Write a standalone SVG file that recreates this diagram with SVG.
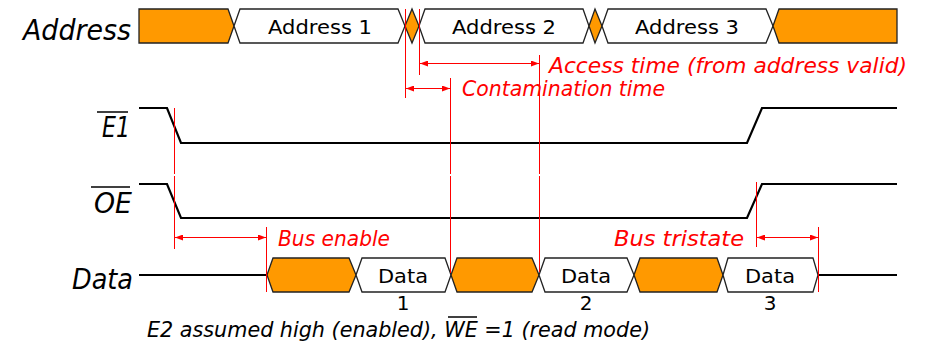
<svg xmlns="http://www.w3.org/2000/svg" width="926" height="344" viewBox="0 0 926 344">
  <style>
    .bus { stroke: #222; stroke-width: 1.3; stroke-linejoin: miter; }
    .inv { fill: #FF9900; }
    .val { fill: #FFFFFF; }
    .sig { fill: none; stroke: #000; stroke-width: 2.2; stroke-linejoin: miter; }
    .mark { stroke: #FF0000; stroke-width: 1; fill: none; }
    .dim { stroke: #FF0000; stroke-width: 1; fill: none; marker-start: url(#ah); marker-end: url(#ah); }
    .lbl { font-family: "DejaVu Sans", "Liberation Sans", sans-serif; font-style: italic; font-size: 28px; fill: #000; }
    .box { font-family: "DejaVu Sans", "Liberation Sans", sans-serif; font-size: 20px; fill: #000; text-anchor: middle; }
    .note { font-family: "DejaVu Sans", "Liberation Sans", sans-serif; font-style: italic; font-size: 21px; fill: #FF0000; }
    .foot { font-family: "DejaVu Sans", "Liberation Sans", sans-serif; font-style: italic; font-size: 21px; fill: #000; }
    .bar { stroke: #000; stroke-width: 1.5; }
  </style>
  <defs>
    <marker id="ah" viewBox="0 0 8 6" refX="8" refY="3" markerWidth="8" markerHeight="6" markerUnits="userSpaceOnUse" orient="auto-start-reverse">
      <path d="M0,0 L8,3 L0,6 Z" fill="#FF0000"/>
    </marker>
  </defs>

  <!-- signal names -->
  <g id="label-address"><text class="lbl" x="23" y="40" textLength="108" lengthAdjust="spacingAndGlyphs">Address</text></g>
  <g id="label-e1">
    <text class="lbl" x="102" y="137" textLength="28" lengthAdjust="spacingAndGlyphs">E1</text>
    <line class="bar" x1="97" y1="112" x2="128" y2="112"/>
  </g>
  <g id="label-oe">
    <text class="lbl" x="94" y="213" textLength="38" lengthAdjust="spacingAndGlyphs">OE</text>
    <line class="bar" x1="91" y1="187" x2="130" y2="187"/>
  </g>
  <g id="label-data"><text class="lbl" x="72" y="289" textLength="61" lengthAdjust="spacingAndGlyphs">Data</text></g>

  <!-- address bus -->
  <g id="addr-invalid-0"><polygon class="bus inv" points="139,9 228,9 234,26 228,43 139,43"/></g>
  <g id="addr-1">
    <polygon class="bus val" points="234,26 240,9 398,9 405,26 398,43 240,43"/>
    <text class="box" x="320" y="34" textLength="104" lengthAdjust="spacingAndGlyphs">Address 1</text>
  </g>
  <g id="addr-invalid-1"><polygon class="bus inv" points="405,26 412,9 419,26 412,43"/></g>
  <g id="addr-2">
    <polygon class="bus val" points="419,26 425,9 583,9 589,26 583,43 425,43"/>
    <text class="box" x="504" y="34" textLength="104" lengthAdjust="spacingAndGlyphs">Address 2</text>
  </g>
  <g id="addr-invalid-2"><polygon class="bus inv" points="589,26 595,9 602,26 595,43"/></g>
  <g id="addr-3">
    <polygon class="bus val" points="602,26 608,9 766,9 773,26 766,43 608,43"/>
    <text class="box" x="687" y="34" textLength="104" lengthAdjust="spacingAndGlyphs">Address 3</text>
  </g>
  <g id="addr-invalid-3"><polygon class="bus inv" points="773,26 779,9 897,9 897,43 779,43"/></g>

  <!-- control lines -->
  <g id="sig-e1"><polyline class="sig" points="139,108 167,108 181,143 747,143 762,108 897,108"/></g>
  <g id="sig-oe"><polyline class="sig" points="139,184 167,184 181,218 747,218 762,184 897,184"/></g>

  <!-- data bus -->
  <g id="data-float-l"><line class="sig" x1="139" y1="275" x2="267" y2="275"/></g>
  <g id="data-invalid-0"><polygon class="bus inv" points="267,275 273,258 349,258 356,275 349,292 273,292"/></g>
  <g id="data-1">
    <polygon class="bus val" points="356,275 362,258 445,258 451,275 445,292 362,292"/>
    <text class="box" x="403" y="283" textLength="50" lengthAdjust="spacingAndGlyphs">Data</text>
    <text class="box" x="403" y="310">1</text>
  </g>
  <g id="data-invalid-1"><polygon class="bus inv" points="451,275 457,258 532,258 539,275 532,292 457,292"/></g>
  <g id="data-2">
    <polygon class="bus val" points="539,275 545,258 627,258 634,275 627,292 545,292"/>
    <text class="box" x="586" y="283" textLength="50" lengthAdjust="spacingAndGlyphs">Data</text>
    <text class="box" x="586" y="310">2</text>
  </g>
  <g id="data-invalid-2"><polygon class="bus inv" points="634,275 640,258 717,258 723,275 717,292 640,292"/></g>
  <g id="data-3">
    <polygon class="bus val" points="723,275 728,258 813,258 818,275 813,292 728,292"/>
    <text class="box" x="770" y="283" textLength="50" lengthAdjust="spacingAndGlyphs">Data</text>
    <text class="box" x="770" y="310">3</text>
  </g>
  <g id="data-float-r"><line class="sig" x1="818" y1="275" x2="897" y2="275"/></g>

  <!-- timing markers and dimension arrows -->
  <g id="connectors">
    <line class="mark" x1="405.5" y1="9" x2="405.5" y2="98"/>
    <line class="mark" x1="419.5" y1="9" x2="419.5" y2="75"/>
    <line class="mark" x1="450.5" y1="78" x2="450.5" y2="174"/>
    <line class="mark" x1="450.5" y1="176" x2="450.5" y2="273"/>
    <line class="mark" x1="539.5" y1="55" x2="539.5" y2="174"/>
    <line class="mark" x1="539.5" y1="176" x2="539.5" y2="272"/>
    <line class="mark" x1="174.5" y1="108" x2="174.5" y2="174"/>
    <line class="mark" x1="174.5" y1="176" x2="174.5" y2="249"/>
    <line class="mark" x1="266.5" y1="227" x2="266.5" y2="292"/>
    <line class="mark" x1="756.5" y1="182" x2="756.5" y2="247"/>
    <line class="mark" x1="818.5" y1="227" x2="818.5" y2="292"/>

    <line class="dim" x1="420" y1="63.5" x2="539" y2="63.5"/>
    <line class="dim" x1="406" y1="88.5" x2="450" y2="88.5"/>
    <line class="dim" x1="175" y1="237.5" x2="266" y2="237.5"/>
    <line class="dim" x1="757" y1="237.5" x2="818" y2="237.5"/>
  </g>

  <!-- annotations -->
  <g id="note-access"><text class="note" x="549" y="73" textLength="358" lengthAdjust="spacingAndGlyphs">Access time (from address valid)</text></g>
  <g id="note-contamination"><text class="note" x="462" y="96" textLength="203" lengthAdjust="spacingAndGlyphs">Contamination time</text></g>
  <g id="note-bus-enable"><text class="note" x="278" y="246" textLength="112" lengthAdjust="spacingAndGlyphs">Bus enable</text></g>
  <g id="note-bus-tristate"><text class="note" x="614" y="246" textLength="130" lengthAdjust="spacingAndGlyphs">Bus tristate</text></g>

  <g id="footnote">
    <text class="foot" x="147" y="337" textLength="503" lengthAdjust="spacingAndGlyphs">E2 assumed high (enabled), WE =1 (read mode)</text>
    <line class="bar" x1="448" y1="317" x2="477" y2="317"/>
  </g>
</svg>
